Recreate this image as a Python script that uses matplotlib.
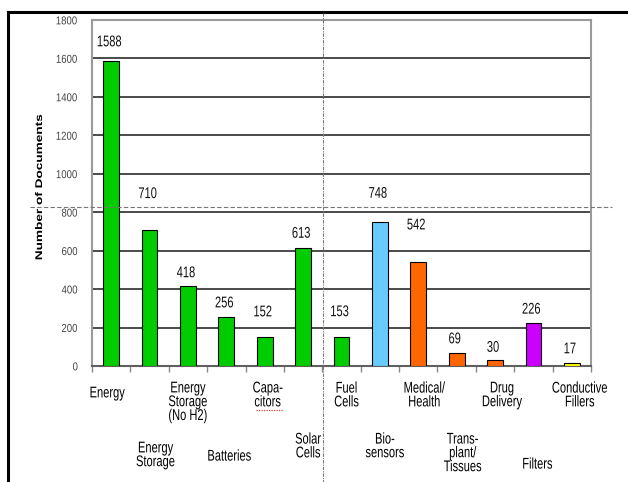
import matplotlib
matplotlib.use("Agg")
import matplotlib.pyplot as plt
from matplotlib.lines import Line2D
from matplotlib.patheffects import AbstractPathEffect
from matplotlib.transforms import Affine2D

# ---- data ----
categories = ["Energy", "Energy\nStorage", "Energy\nStorage\n(No H2)", "Batteries",
              "Capa-\ncitors", "Solar\nCells", "Fuel\nCells", "Bio-\nsensors",
              "Medical/\nHealth", "Trans-\nplant/\nTissues", "Drug\nDelivery",
              "Filters", "Conductive\nFillers"]
documents = [1588, 710, 418, 256, 152, 613, 153, 748, 542, 69, 30, 226, 17]
bar_colors = ["#00CC00"] * 7 + ["#66CCFF"] + ["#FF6600"] * 3 + ["#CC00FF", "#FFFF00"]
y_ticks = [0, 200, 400, 600, 800, 1000, 1200, 1400, 1600, 1800]
y_label = "Number of Documents"

# ---- styling (pixel offsets) ----
value_offsets = [19, 36, 13, 14, 25, 15, 25, 29, 37, 14, 13, 13.5, 14]
cat_top_offsets = [-20, -75, -15, -83, -15, -66, -15, -66, -15, -66, -15, -91, -15]
cat_x_offsets = [-4, 6, 0, 3, 3, 5, 5, 5, 6, 6, 7, 4, 8]


class Stretch(AbstractPathEffect):
    """Scale each drawn text line about its own centre (narrow / tall text)."""

    def __init__(self, sx=1.0, sy=1.0):
        super().__init__()
        self.sx, self.sy = sx, sy

    def draw_path(self, renderer, gc, tpath, affine, rgbFace=None):
        ext = tpath.get_extents(affine)
        cx, cy = (ext.x0 + ext.x1) / 2, (ext.y0 + ext.y1) / 2
        new = affine + Affine2D().translate(-cx, -cy).scale(self.sx, self.sy).translate(cx, cy)
        renderer.draw_path(gc, tpath, new, rgbFace)


W, H = 628, 482
fig = plt.figure(figsize=(W / 100, H / 100), dpi=100)
fig.patch.set_facecolor("white")

L, R, T, B = 92, 591, 20, 366
ax = fig.add_axes([L / W, 1 - B / H, (R - L) / W, (B - T) / H])

sans = ["Liberation Sans", "DejaVu Sans"]

n = len(documents)
xs = [i + 0.5 for i in range(n)]
ax.bar(xs, documents, width=0.41, color=bar_colors, edgecolor="black",
       linewidth=0.8, zorder=3)

ax.set_xlim(0, n)
ax.set_ylim(0, 1800)
ax.set_yticks(y_ticks)
ax.set_yticklabels([str(v) for v in y_ticks], family=sans, fontsize=7.5, color="#444444")
for t in ax.get_yticklabels():
    t.set_path_effects([Stretch(0.92, 1.1)])
ax.tick_params(axis="y", length=0, pad=10)
ax.set_xticks(range(n + 1))
ax.set_xticklabels([])
ax.tick_params(axis="x", length=4, color="#888888", width=1, direction="out")

for v in y_ticks[1:-1]:
    ax.axhline(v, color="#4a4a4a", linewidth=1.4, zorder=1)

for s in ["top", "right", "left"]:
    ax.spines[s].set_color("#9a9a9a")
    ax.spines[s].set_linewidth(1.5)
ax.spines["bottom"].set_color("#606060")
ax.spines["bottom"].set_linewidth(1.5)

narrow = [Stretch(0.8, 1.12)]
for x, v, off in zip(xs, documents, value_offsets):
    ax.annotate(str(v), xy=(x, v), xytext=(-2, off), textcoords="offset pixels",
                ha="center", va="center", family=sans, fontsize=10, color="#111111",
                path_effects=narrow)

for x, lab, dy, dx in zip(xs, categories, cat_top_offsets, cat_x_offsets):
    ax.annotate(lab, xy=(x, 0), xytext=(dx, dy), textcoords="offset pixels",
                ha="center", va="top", family=sans, fontsize=10,
                color="black", linespacing=0.98, annotation_clip=False,
                path_effects=narrow)

fig.text(39 / W, 1 - 187 / H, y_label, rotation=90, ha="center", va="center",
         fontsize=7, fontweight="bold", family=sans,
         path_effects=[Stretch(1.0, 1.4)])

# frame / overlay lines
fig.add_artist(Line2D([8 / W, 1], [1 - 12 / H, 1 - 12 / H], color="black", linewidth=2.2,
                      transform=fig.transFigure))
fig.add_artist(Line2D([8 / W, 8 / W], [1 - 12 / H, 0], color="black", linewidth=2.2,
                      transform=fig.transFigure))
fig.add_artist(Line2D([30 / W, 612 / W], [1 - 207 / H, 1 - 207 / H], color="#777777",
                      linewidth=0.8, linestyle=(0, (4, 2)), transform=fig.transFigure))
fig.add_artist(Line2D([323 / W, 323 / W], [1 - 13 / H, 0], color="#777777",
                      linewidth=0.8, linestyle=(0, (3, 1, 1, 1)), transform=fig.transFigure))
# spell-check squiggle under "citors"
fig.add_artist(Line2D([256 / W, 283 / W], [1 - 409.5 / H, 1 - 409.5 / H], color="#e04040",
                      linewidth=0.9, linestyle=(0, (1, 1)), transform=fig.transFigure))

fig.savefig("out.png", dpi=100)
